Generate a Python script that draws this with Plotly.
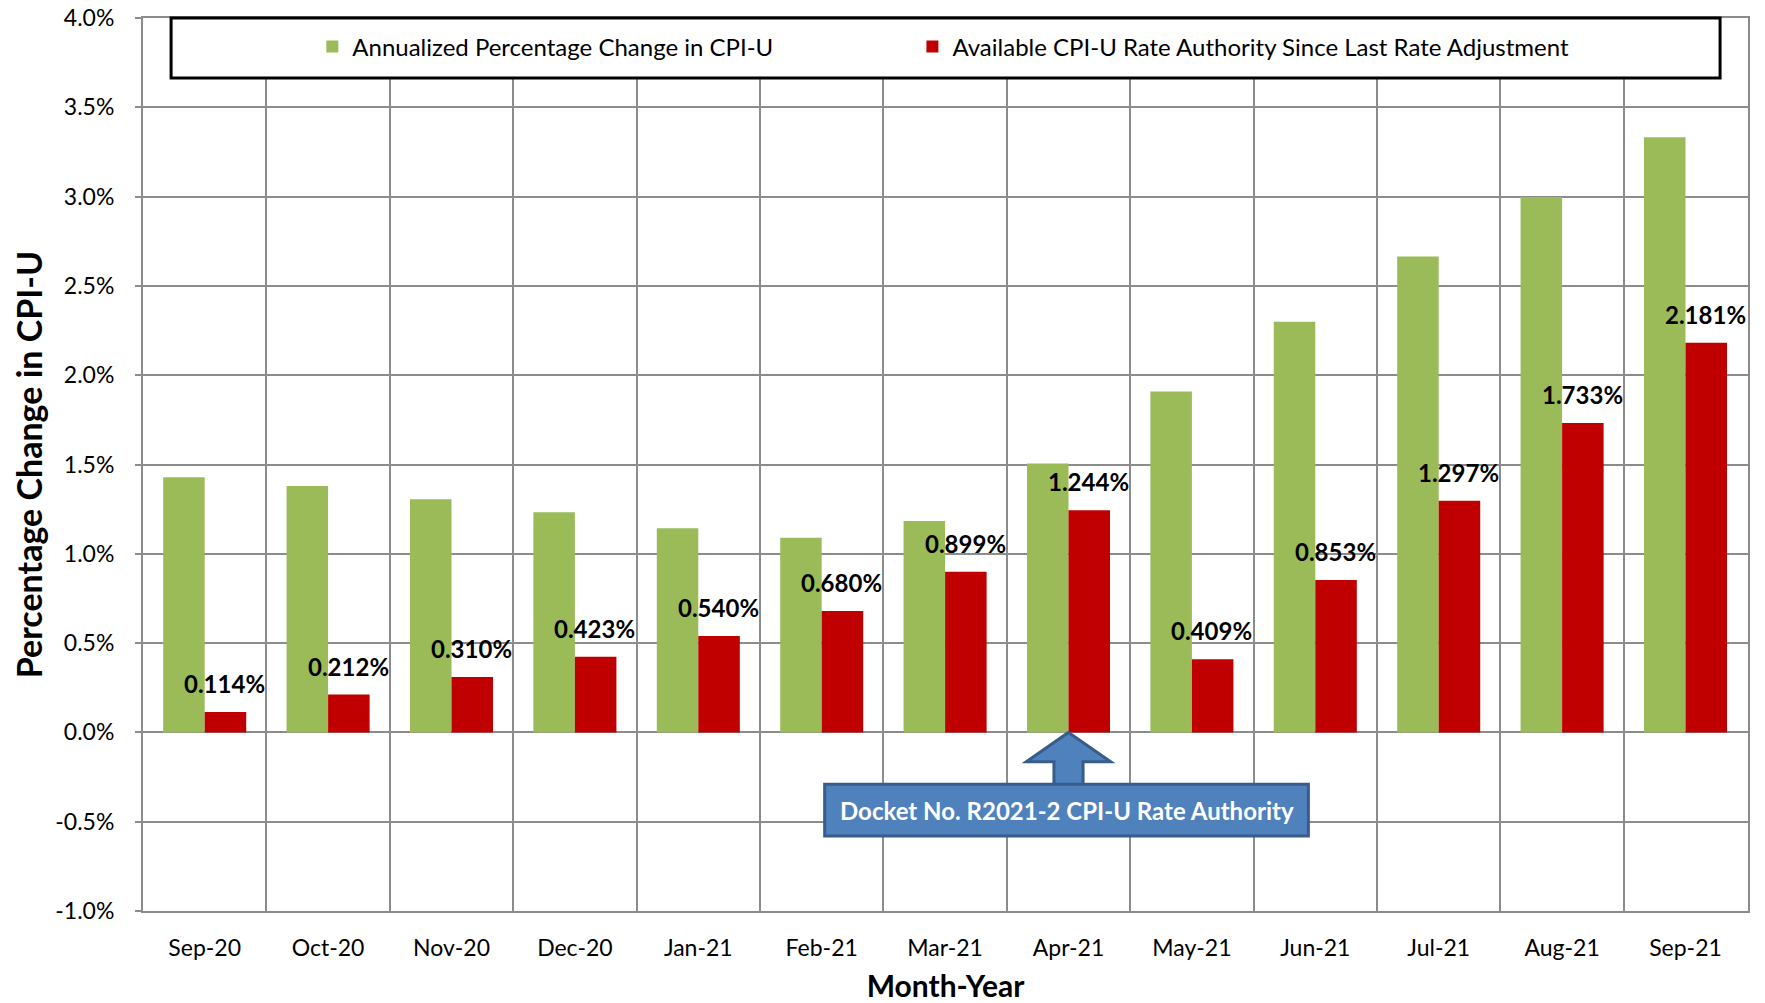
import plotly.graph_objects as go

months = ["Sep-20", "Oct-20", "Nov-20", "Dec-20", "Jan-21", "Feb-21", "Mar-21",
          "Apr-21", "May-21", "Jun-21", "Jul-21", "Aug-21", "Sep-21"]
annualized_cpi = [1.429, 1.380, 1.306, 1.233, 1.143, 1.090, 1.184,
                  1.506, 1.909, 2.299, 2.665, 2.998, 3.332]
available_authority = [0.114, 0.212, 0.310, 0.423, 0.540, 0.680, 0.899,
                       1.244, 0.409, 0.853, 1.297, 1.733, 2.181]
y_ticks = [-1.0, -0.5, 0.0, 0.5, 1.0, 1.5, 2.0, 2.5, 3.0, 3.5, 4.0]

FONT = "Lato"
GREEN = "#9BBB59"
RED = "#C00000"
GRID = "#8C8C8C"

fig = go.Figure()
fig.add_trace(go.Bar(
    x=months, y=annualized_cpi, name="Annualized Percentage Change in CPI-U",
    marker=dict(color=GREEN, line=dict(width=0)), legend="legend", showlegend=True,
))
fig.add_trace(go.Bar(
    x=months, y=available_authority,
    name="Available CPI-U Rate Authority Since Last Rate Adjustment",
    marker=dict(color=RED, line=dict(width=0)), legend="legend2", showlegend=True,
))

# Data labels above the red bars (shifted to the red bar's slot of each group)
for m, v in zip(months, available_authority):
    fig.add_annotation(x=m, y=v, xref="x", yref="y", text=f"{v:.3f}%",
                       showarrow=False, xanchor="center", yanchor="bottom",
                       xshift=20, yshift=12,
                       font=dict(family=FONT, size=24, color="black", weight="bold"))

# Legend frame
fig.add_shape(type="rect", xref="paper", yref="paper",
              x0=0.0175, x1=0.9826, y0=0.9328, y1=1.0,
              fillcolor="white", line=dict(color="black", width=3), layer="above")

# Block arrow pointing to Apr-21 at 0%
ai = months.index("Apr-21")
arrow_path = (f"M {ai},0 L {ai+0.342},-0.164 L {ai+0.118},-0.164 L {ai+0.118},-0.30 "
              f"L {ai-0.118},-0.30 L {ai-0.118},-0.164 L {ai-0.342},-0.164 Z")
fig.add_shape(type="path", xref="x", yref="y", path=arrow_path,
              fillcolor="#4F81BD", line=dict(color="#385D8A", width=3), layer="above")
fig.add_shape(type="rect", xref="x", yref="y",
              x0=ai - 1.976, x1=ai + 1.944, y0=-0.58, y1=-0.29,
              fillcolor="#4F81BD", line=dict(color="#385D8A", width=3), layer="above")
fig.add_annotation(x=ai - 0.016, y=-0.435, xref="x", yref="y",
                   text="Docket No. R2021-2 CPI-U Rate Authority", showarrow=False,
                   font=dict(family=FONT, size=24, color="white", weight="bold"))

legend_common = dict(orientation="h", xanchor="left", y=0.9675, yanchor="middle",
                     bgcolor="rgba(0,0,0,0)", borderwidth=0,
                     font=dict(family=FONT, size=24, color="black"))

fig.update_layout(
    width=1765, height=1003,
    margin=dict(l=143, r=17, t=18, b=92),
    paper_bgcolor="white", plot_bgcolor="white",
    showlegend=True,
    barmode="group", bargap=0.327, bargroupgap=0,
    font=dict(family=FONT, size=23, color="black"),
    legend=dict(x=0.1055, **legend_common),
    legend2=dict(x=0.4794, **legend_common),
    xaxis=dict(
        type="category", tickson="boundaries", showgrid=True, gridcolor=GRID, gridwidth=2,
        showline=True, linecolor=GRID, linewidth=2, mirror=True, automargin=False,
        ticks="", ticklabelstandoff=15,
        tickfont=dict(family=FONT, size=23, color="black"),
        title=dict(text="Month-Year", standoff=20,
                   font=dict(family=FONT, size=30, color="black", weight="bold")),
    ),
    yaxis=dict(
        range=[-1.0, 4.0], tickvals=y_ticks, ticktext=[f"{v:.1f}%" for v in y_ticks],
        showgrid=True, gridcolor=GRID, gridwidth=2, zeroline=False,
        showline=True, linecolor=GRID, linewidth=2, mirror=True, automargin=False,
        ticks="outside", ticklen=6, tickcolor=GRID, tickwidth=2, ticklabelstandoff=16,
        ticklabeloverflow="allow",
        tickfont=dict(family=FONT, size=23, color="black"),
        title=dict(text="Percentage Change in CPI-U", standoff=2,
                   font=dict(family=FONT, size=34, color="black", weight="bold")),
    ),
)

fig.write_html("out.html", config={"displayModeBar": False},
               post_script="document.body.style.margin='0';document.body.style.overflow='hidden';")
